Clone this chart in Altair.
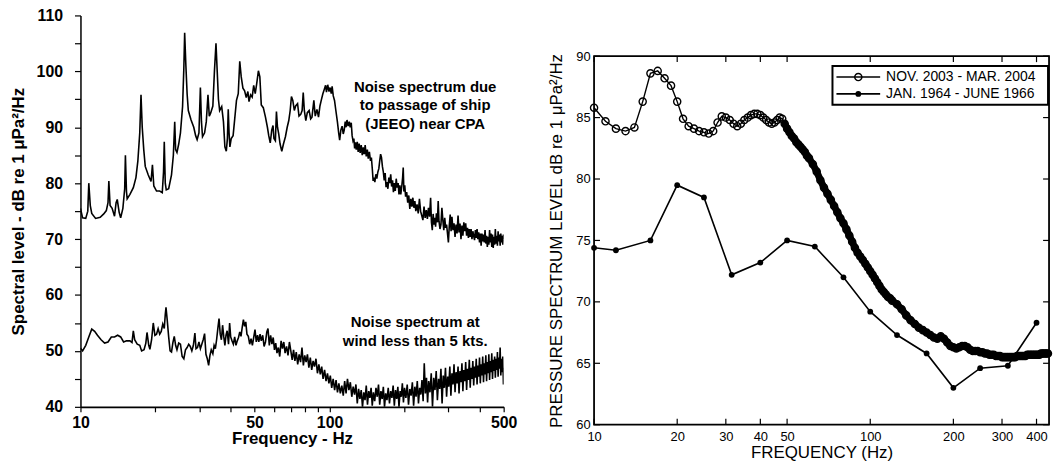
import altair as alt
import pandas as pd

FONT = "Liberation Sans"

# ---------------- Left panel data ----------------
ship_freq = [10.0, 10.2, 10.5, 10.7, 10.8, 10.95, 11.1, 11.5, 12.0, 12.4, 12.7, 12.9, 13.0, 13.15, 13.4, 13.7, 13.9, 14.05,
             14.3, 14.5, 14.8, 15.05, 15.15, 15.3, 15.4, 15.8, 16.3, 16.7, 17.0, 17.3, 17.5, 17.7, 17.95, 18.2, 18.7,
             19.2, 19.45, 19.7, 20.2, 20.8, 21.3, 21.55, 21.7, 21.9, 22.1, 22.6, 23.2, 23.6, 23.9, 24.1, 24.4, 24.8,
             25.2, 25.7, 26.0, 26.2, 26.5, 26.8, 27.1, 27.8, 28.5, 29.0, 29.4, 29.9, 30.3, 30.6, 30.9, 31.5, 32.0,
             32.5, 32.9, 33.3, 34.0, 34.5, 35.0, 35.4, 35.8, 36.2, 36.9, 37.5, 38.0, 38.5, 38.9, 39.2, 39.5, 39.8,
             40.3, 41.0, 41.6, 42.3, 43.0, 43.6, 44.2, 44.9, 45.6, 46.3, 47.0, 47.5, 48.2, 48.9, 49.6, 50.3, 51.0,
             51.8, 52.5, 53.2, 54.2, 55.3, 56.3, 57.0, 57.8, 58.6, 59.3, 59.8, 60.6, 61.2, 61.8, 62.5, 63.3, 64.3,
             65.3, 66.5, 67.6, 68.6, 69.5, 70.3, 71.2, 72.2, 73.1, 74.4, 75.4, 76.6, 77.6, 78.4, 79.2, 80.3, 81.4,
             82.8, 84.0, 85.0, 86.5, 87.6, 89.0, 90.3, 91.5, 92.6, 94.0, 95.3, 96.4, 97.2, 98.3, 99.5, 100.5, 101.6,
             102.4, 103.5, 104.7, 106.0, 107.5, 108.8, 109.8, 111.0, 112.3, 113.5, 114.5, 115.6, 116.5, 117.5, 118.7,
             120.0, 121.0, 122.2, 123.2, 124.2, 125.2, 126.1, 127.0, 128.0, 129.2, 130.3, 131.5, 132.7, 134.0, 135.3,
             136.5, 137.8, 139.0, 140.4, 141.8, 143.0, 144.5, 146.0, 147.2, 148.5, 149.6, 150.6, 152.0, 153.4, 154.8,
             156.3, 157.7, 159.0, 160.3, 161.6, 163.0, 164.4, 165.8, 167.2, 168.6, 170.0, 171.5, 173.0, 174.5, 176.0,
             177.5, 179.0, 180.5, 182.0, 183.6, 185.2, 186.8, 188.5, 190.0, 191.6, 193.2, 195.0, 196.5, 197.6, 198.8,
             200.4, 202.0, 204.0, 206.0, 208.0, 210.0, 212.0, 214.0, 216.0, 218.0, 220.0, 222.0, 224.5, 227.0, 229.5,
             232.0, 234.5, 237.0, 239.5, 242.0, 244.5, 247.0, 249.5, 252.0, 254.5, 256.5, 258.5, 260.5, 262.5, 264.5,
             266.5, 268.5, 271.0, 273.0, 275.0, 277.5, 280.0, 282.5, 285.0, 287.5, 290.0, 292.5, 295.0, 297.5, 300.0,
             302.5, 305.0, 307.5, 310.0, 313.0, 316.0, 319.0, 322.0, 325.0, 328.0, 331.0, 334.0, 337.0, 340.0, 343.0,
             346.0, 349.0, 352.0, 355.0, 358.0, 361.0, 364.0, 367.0, 370.0, 373.0, 376.0, 379.0, 382.0, 385.0, 388.0,
             391.0, 394.0, 397.0, 400.0, 403.0, 406.0, 409.0, 412.0, 415.0, 418.0, 421.0, 424.0, 427.0, 430.0, 433.0,
             436.0, 439.0, 442.0, 445.0, 448.0, 451.0, 454.0, 457.0, 460.0, 463.0, 466.0, 469.0, 472.0, 475.0, 478.0,
             481.0, 484.0, 487.0, 490.0, 493.0, 496.0, 499.0, 500.0]
ship_level = [75.5, 73.8, 73.7, 75.0, 80.0, 76.0, 74.6, 73.7, 73.9, 74.5, 75.1, 76.5, 80.4, 76.0, 75.5, 74.1, 76.5, 77.1,
              74.8, 73.8, 75.5, 79.0, 85.0, 78.5, 77.2, 78.0, 79.2, 81.0, 84.0, 89.0, 95.8, 90.0, 86.0, 83.0, 81.5,
              80.3, 83.3, 79.5, 78.6, 78.6, 78.3, 82.0, 87.4, 80.0, 78.8, 79.0, 81.5, 85.0, 91.0, 86.0, 85.5, 87.0,
              89.0, 93.7, 100.5, 106.9, 101.0, 96.0, 93.0, 91.3, 90.0, 88.5, 87.8, 89.0, 97.1, 91.0, 88.3, 89.0, 91.0,
              95.8, 92.0, 92.5, 93.8, 100.0, 105.0, 100.0, 95.0, 93.0, 93.7, 91.0, 86.5, 85.7, 88.0, 93.2, 89.0, 86.5,
              88.0, 88.5, 91.4, 94.8, 96.0, 101.8, 99.0, 97.0, 96.5, 95.3, 96.4, 94.6, 95.8, 95.4, 97.5, 96.0, 97.8,
              100.1, 99.0, 94.0, 93.5, 91.8, 90.0, 88.5, 87.2, 89.5, 90.3, 88.0, 87.6, 92.8, 90.0, 88.8, 87.0, 85.7,
              87.0, 88.3, 90.0, 91.2, 93.0, 95.5, 94.8, 93.0, 93.8, 94.2, 92.0, 92.3, 93.0, 96.2, 93.0, 91.2, 92.6,
              93.0, 91.5, 91.8, 94.8, 92.0, 93.2, 91.8, 93.8, 94.8, 96.0, 96.8, 97.5, 96.3, 97.6, 96.4, 97.1, 96.0,
              97.3, 95.6, 94.8, 93.0, 91.0, 89.0, 87.7, 89.5, 90.2, 88.8, 89.5, 91.0, 90.0, 91.3, 90.2,
              91.0, 90.0, 90.8, 88.5, 87.6, 88.0, 86.2, 87.3, 86.0, 87.4, 85.6, 87.1, 85.4, 86.8, 85.0,
              86.4, 85.2, 86.8, 84.8, 86.0, 84.4, 85.6, 84.0, 84.6, 82.5, 80.4, 81.0, 80.2, 81.6, 80.8,
              82.0, 82.6, 84.0, 85.2, 84.6, 83.0, 82.0, 80.5, 81.8, 79.3, 80.2, 79.0, 81.0, 80.0, 81.6,
              79.4, 80.5, 78.4, 80.0, 78.6, 80.8, 79.2, 80.0, 78.0, 79.6, 78.0, 79.5, 81.0, 82.8, 78.5,
              79.6, 77.6, 78.4, 76.5, 77.8, 75.4, 77.2, 75.8, 77.4, 75.6, 76.8, 75.0, 76.2, 74.6, 77.2,
              75.0, 74.2, 73.4, 75.8, 73.8, 75.2, 73.6, 75.6, 74.0, 77.4, 73.0, 71.6, 74.5, 72.6, 73.8,
              72.2, 74.6, 73.0, 76.8, 73.2, 71.8, 72.6, 75.6, 73.4, 71.6, 73.8, 72.0, 72.6, 71.0, 69.4,
              72.4, 74.4, 71.4, 74.0, 71.6, 72.8, 70.4, 72.6, 71.0, 74.2, 71.2, 72.8, 70.0, 72.4, 70.6,
              73.0, 71.4, 72.8, 70.6, 72.0, 70.2, 71.8, 70.4, 71.8, 70.0, 71.4, 70.6, 69.8, 71.6, 70.2,
              71.8, 70.0, 71.2, 69.4, 71.0, 68.8, 71.0, 69.6, 70.8, 69.4, 71.6, 69.2, 70.6, 68.6, 70.4,
              69.0, 71.6, 69.4, 71.0, 68.6, 70.8, 68.4, 70.4, 69.0, 71.8, 69.2, 70.6, 68.8, 71.4, 69.6,
              70.8, 68.8, 71.0, 69.4, 70.6, 69.0, 70.8, 70.0]

wind_freq = [10.0, 10.2, 10.5, 10.8, 11.1, 11.4, 11.7, 12.1, 12.5, 12.9, 13.3, 13.7, 14.1, 14.5, 14.9, 15.3, 15.8,
             16.1, 16.3, 16.5, 16.9, 17.3, 17.6, 18.0, 18.3, 18.5, 18.8, 19.0, 19.3, 19.6, 19.9, 20.2, 20.5, 20.8,
             21.1, 21.4, 21.7, 21.9, 22.05, 22.3, 22.6, 22.9, 23.2, 23.5, 23.8, 24.1, 24.4, 24.8, 25.2, 25.6, 26.0,
             26.4, 26.8, 27.2, 27.6, 28.0, 28.4, 28.8, 29.1, 29.5, 29.9, 30.3, 30.7, 31.1, 31.5, 31.9, 32.3, 32.7,
             33.1, 33.5, 34.0, 34.4, 34.8, 35.2, 35.6, 36.0, 36.4, 36.8, 37.2, 37.6, 38.0, 38.4, 38.8, 39.3, 39.7,
             40.1, 40.6, 41.1, 41.6, 42.1, 42.6, 43.1, 43.6, 44.1, 44.6, 45.1, 45.6, 46.1, 46.6, 47.2, 47.8, 48.4,
             49.0, 49.6, 50.2, 50.8, 51.4, 52.0, 52.6, 53.2, 53.9, 54.6, 55.3, 56.0, 56.6, 57.3, 58.0, 58.7, 59.4,
             60.1, 60.8, 61.5, 62.3, 63.1, 63.9, 64.7, 65.5, 66.3, 67.2, 68.1, 69.0, 69.9, 70.8, 71.7, 72.6, 73.5,
             74.5, 75.5, 76.5, 77.5, 78.5, 79.5, 80.5, 81.5, 82.6, 83.7, 84.8, 85.9, 87.0, 88.2, 89.4, 90.6, 91.8,
             93.0, 94.2, 95.5, 96.8, 98.1, 99.4, 100.7, 102.0, 103.4, 104.8, 106.2, 107.6, 109.0, 110.5, 112.0,
             113.5, 115.0, 116.5, 118.0, 119.6, 121.2, 122.8, 124.4, 126.0, 127.6, 129.2, 130.8, 132.4, 134.0,
             135.6, 137.2, 138.8, 140.4, 142.0, 143.6, 145.2, 146.8, 148.4, 150.0, 151.8, 153.6, 155.4, 157.2,
             159.0, 160.8, 162.6, 164.4, 166.2, 168.0, 170.0, 172.0, 174.0, 176.0, 178.0, 180.0, 182.0, 184.0,
             186.0, 188.0, 190.0, 192.0, 194.0, 196.0, 198.0, 200.0, 202.5, 205.0, 207.5, 210.0, 212.5, 215.0,
             217.5, 220.0, 222.5, 225.0, 227.5, 230.0, 232.5, 235.0, 237.5, 240.0, 242.5, 245.0, 247.5, 250.0,
             253.0, 256.0, 259.0, 262.0, 265.0, 268.0, 271.0, 274.0, 277.0, 280.0, 283.0, 286.0, 289.0, 292.0,
             295.0, 298.0, 301.0, 304.0, 307.0, 310.0, 313.0, 316.0, 319.0, 322.0, 325.0, 328.0, 331.0, 334.0,
             337.0, 340.0, 343.0, 346.0, 349.0, 352.0, 355.0, 358.0, 361.0, 364.0, 367.0, 370.0, 373.0, 376.0,
             379.0, 382.0, 385.0, 388.0, 391.0, 394.0, 397.0, 400.0, 403.0, 406.0, 409.0, 412.0, 415.0, 418.0,
             421.0, 424.0, 427.0, 430.0, 433.0, 436.0, 439.0, 442.0, 445.0, 448.0, 451.0, 454.0, 457.0, 460.0,
             463.0, 466.0, 469.0, 472.0, 475.0, 478.0, 481.0, 484.0, 487.0, 490.0, 493.0, 496.0, 499.0, 500.0]
wind_level = [50.5, 50.0, 51.0, 52.5, 53.9, 53.5, 52.8, 52.0, 51.4, 51.6, 52.5, 52.5, 52.8, 52.5, 51.6, 51.8, 51.8,
              51.5, 53.6, 52.0, 51.2, 51.0, 50.0, 50.2, 51.4, 53.3, 51.0, 50.3, 52.0, 55.0, 52.8, 53.0, 54.0, 53.0,
              53.5, 54.8, 54.0, 56.5, 57.8, 55.5, 52.5, 50.0, 49.8, 51.5, 52.6, 51.0, 50.2, 51.4, 51.2, 49.0, 48.6,
              50.2, 50.6, 51.2, 50.8, 50.0, 51.0, 53.2, 50.4, 50.6, 51.6, 50.4, 51.2, 52.0, 53.1, 49.4, 48.6, 47.4,
              49.2, 50.2, 49.5, 51.0, 50.4, 52.0, 54.0, 55.8, 53.0, 52.0, 54.6, 52.6, 51.0, 52.8, 53.6, 51.2, 55.0,
              52.5, 51.8, 51.2, 52.5, 51.0, 51.8, 52.4, 53.4, 52.6, 54.2, 55.6, 54.4, 55.2, 53.0, 52.6, 51.2, 52.2,
              51.0, 52.4, 53.8, 51.6, 52.8, 51.6, 53.0, 51.8, 52.8, 50.8, 51.6, 53.4, 54.0, 51.0, 52.8, 51.2, 52.4,
              50.2, 51.4, 49.6, 50.6, 49.0, 51.8, 50.4, 51.6, 49.6, 50.8, 49.2, 51.6, 50.0, 48.4, 50.2, 48.2, 49.8,
              47.6, 49.4, 48.0, 50.6, 47.4, 49.2, 48.0, 49.4, 47.0, 48.8, 46.6, 48.2, 47.2, 48.6, 46.0, 47.6, 45.8,
              47.2, 45.0, 46.6, 44.6, 46.0, 44.2, 45.6, 43.4, 45.0, 43.0, 44.8, 42.6, 44.2, 42.4, 43.8,
              42.0, 44.6, 42.4, 45.0, 43.0, 44.4, 41.8, 43.6, 42.2, 44.0, 40.6, 43.2, 41.4, 43.0,
              40.0, 42.6, 41.2, 43.8, 40.4, 42.8, 41.6, 43.4, 40.2, 42.6, 41.0, 43.4, 41.8, 44.0,
              40.4, 42.8, 41.4, 43.6, 40.0, 42.4, 41.2, 43.4, 40.6, 42.8, 41.6, 43.8, 40.2, 43.0,
              41.4, 43.6, 40.0, 42.8, 41.8, 44.2, 40.8, 43.4, 41.6, 44.0, 40.4, 43.2, 42.0, 44.4,
              40.2, 43.6, 41.8, 44.6, 40.6, 43.4, 42.2, 44.8, 41.0, 47.8, 42.4, 45.2, 40.8, 44.6,
              42.6, 46.0, 40.0, 45.2, 43.0, 46.4, 41.2, 45.0, 43.2, 46.8, 40.6, 45.6, 43.4, 47.0,
              41.8, 45.4, 43.6, 47.2, 42.0, 46.0, 44.0, 47.6, 42.6, 46.2, 44.2, 47.2, 42.4, 46.4,
              44.4, 47.8, 42.8, 46.6, 44.6, 48.0, 43.0, 46.8, 44.8, 48.4, 43.4, 47.0, 45.0, 48.2,
              43.8, 47.2, 45.2, 48.6, 44.0, 47.4, 45.4, 48.8, 44.2, 47.6, 45.6, 49.0, 44.4, 47.8,
              45.8, 49.2, 44.6, 48.0, 46.0, 49.4, 44.8, 48.2, 46.2, 49.6, 45.0, 48.4, 46.4, 49.0,
              45.2, 48.6, 46.6, 49.8, 45.4, 48.8, 46.8, 50.6, 45.6, 48.6, 46.2, 49.0, 44.0, 47.0]

left_xticks = [10, 20, 30, 40, 50, 60, 70, 80, 90, 100, 200, 300, 400, 500]
left_xlabels = [10, 50, 100, 500]
left_yticks = [40, 45, 50, 55, 60, 65, 70, 75, 80, 85, 90, 95, 100, 105, 110]

# ---------------- Right panel data ----------------
nov_freq = list(range(10, 61)) + list(range(62, 121, 2)) + list(range(125, 441, 5))
nov_level = [85.8, 84.7, 84.1, 83.9, 84.2, 86.3, 88.6, 88.8, 88.2, 87.6, 86.3, 84.9, 84.3, 84.1, 83.9, 83.8, 83.7,
             83.9, 84.6, 85.1, 85.0, 84.8, 84.5, 84.3, 84.5, 84.8, 85.0, 85.2, 85.3, 85.3, 85.2, 85.0, 84.8, 84.6,
             84.5, 84.6, 84.8, 85.0, 84.9, 84.5, 84.1, 83.8, 83.5, 83.3, 83.0, 82.8, 82.6, 82.4, 82.2, 81.9, 81.7,
             81.2, 80.6, 79.9, 79.3, 78.8, 78.3, 77.8, 77.3, 76.8, 76.4, 75.9, 75.4, 74.9, 74.4, 74.0, 73.7, 73.4,
             73.1, 72.8, 72.5, 72.2, 71.9, 71.6, 71.3, 71.0, 70.8, 70.6, 70.4, 70.3, 70.1,
             69.8, 69.4, 68.9, 68.5, 68.2, 67.9, 67.7, 67.5, 67.3, 67.1, 67.0, 67.2, 67.0, 66.7, 66.4, 66.3, 66.2,
             66.3, 66.4, 66.4, 66.3, 66.1, 66.0, 66.0, 66.0, 65.9, 65.9, 65.8, 65.8, 65.7, 65.7, 65.7, 65.6, 65.6,
             65.6, 65.5, 65.5, 65.5, 65.5, 65.5, 65.5, 65.5, 65.5, 65.6, 65.6, 65.6, 65.6, 65.6, 65.6, 65.7, 65.7,
             65.7, 65.7, 65.7, 65.7, 65.7, 65.7, 65.7, 65.8, 65.8, 65.8, 65.8, 65.8, 65.8]
jan_freq = [10, 12, 16, 20, 25, 31.5, 40, 50, 63, 80, 100, 125, 160, 200, 250, 315, 400]
jan_level = [74.4, 74.2, 75.0, 79.5, 78.5, 72.2, 73.2, 75.0, 74.5, 72.0, 69.2, 67.3, 65.8, 63.0, 64.6, 64.8, 68.3]

right_xticks = [10, 20, 30, 40, 50, 100, 200, 300, 400]
right_yticks = [60, 65, 70, 75, 80, 85, 90]
legend_labels = ["NOV. 2003 - MAR. 2004", "JAN. 1964 - JUNE 1966"]

ship_df = pd.DataFrame({"f": ship_freq, "v": ship_level})
wind_df = pd.DataFrame({"f": wind_freq, "v": wind_level})
nov_df = pd.DataFrame({"f": nov_freq, "v": nov_level})
jan_df = pd.DataFrame({"f": jan_freq, "v": jan_level})
one = alt.Data(values=[{}])

# ---------------- Left panel ----------------
LW, LH = 426, 394
lx = alt.X("f:Q", scale=alt.Scale(type="log", domain=[10, 500], nice=False),
           axis=alt.Axis(values=left_xticks, title="Frequency - Hz",
                         labelExpr="indexof(%s, datum.value) >= 0 ? '' + datum.value : ''" % left_xlabels,
                         labelOverlap=False, labelFlush=False, labelBound=False,
                         labelFont=FONT, labelFontWeight="bold", labelFontSize=16, labelColor="black",
                         labelPadding=3, tickSize=5, tickColor="black", tickWidth=1.2,
                         domainColor="black", domainWidth=1.8, grid=False,
                         titleFont=FONT, titleFontWeight="bold", titleFontSize=17, titleColor="black",
                         titlePadding=0))
ly = alt.Y("v:Q", scale=alt.Scale(domain=[40, 110], nice=False, zero=False),
           axis=alt.Axis(values=left_yticks, title="Spectral level - dB re 1 μPa²/Hz",
                         labelExpr="datum.value % 10 == 0 ? '' + datum.value : ''",
                         labelOverlap=False, labelFlush=False, labelBound=False,
                         labelFont=FONT, labelFontWeight="bold", labelFontSize=16, labelColor="black",
                         labelPadding=12, tickSize=6, tickColor="black", tickWidth=1.2,
                         domainColor="black", domainWidth=1.5, grid=False,
                         titleFont=FONT, titleFontWeight="bold", titleFontSize=17, titleColor="black",
                         titlePadding=9))

ship_line = alt.Chart(ship_df).mark_line(color="black", strokeWidth=1.6, clip=True).encode(x=lx, y=ly, order="f:Q")
wind_line = alt.Chart(wind_df).mark_line(color="black", strokeWidth=1.6, clip=True).encode(x=lx, y=ly, order="f:Q")
ann1 = alt.Chart(one).mark_text(
    text="Noise spectrum due\nto passage of ship\n(JEEO) near CPA", lineBreak="\n", lineHeight=18.5,
    align="center", baseline="alphabetic", font=FONT, fontWeight="bold", fontSize=15, color="black"
).encode(x=alt.value(347), y=alt.value(77))
ann2 = alt.Chart(one).mark_text(
    text="Noise spectrum at\nwind less than 5 kts.", lineBreak="\n", lineHeight=18.4,
    align="center", baseline="alphabetic", font=FONT, fontWeight="bold", fontSize=15, color="black"
).encode(x=alt.value(337), y=alt.value(314))

left = alt.layer(ship_line, wind_line, ann1, ann2).properties(width=LW, height=LH)

# ---------------- Right panel ----------------
RW, RTOTAL, RTOP = 458, 412, 41   # plot frame spans y = RTOP .. RTOTAL
rx = alt.X("f:Q", scale=alt.Scale(type="log", domain=[10, 444], nice=False),
           axis=alt.Axis(values=right_xticks, title="FREQUENCY (Hz)", labelExpr="'' + datum.value",
                         labelOverlap=False, labelFlush=False, labelBound=False,
                         labelFont=FONT, labelFontSize=13, labelColor="black", labelPadding=6,
                         ticks=False, tickSize=0, domain=False, grid=False,
                         titleFont=FONT, titleFontWeight="normal", titleFontSize=17, titleColor="black",
                         titlePadding=1))
ry = alt.Y("v:Q", scale=alt.Scale(domain=[60, 90], nice=False, zero=False, range=[RTOTAL, RTOP]),
           axis=alt.Axis(values=right_yticks, title="PRESSURE SPECTRUM LEVEL dB re 1 μPa²/Hz",
                         labelExpr="'' + datum.value",
                         labelOverlap=False, labelFlush=False, labelBound=False,
                         labelFont=FONT, labelFontSize=13, labelColor="black", labelPadding=4,
                         ticks=False, tickSize=0, domain=False, grid=False,
                         titleFont=FONT, titleFontWeight="normal", titleFontSize=17, titleColor="black",
                         titlePadding=10))

xt_df = pd.DataFrame({"f": right_xticks})
yt_df = pd.DataFrame({"v": right_yticks})

frame = alt.Chart(one).mark_rect(fill="white", fillOpacity=0, stroke="black", strokeWidth=1.8).encode(
    x=alt.value(0), x2=alt.value(RW), y=alt.value(RTOP), y2=alt.value(RTOTAL))
tick_b = alt.Chart(xt_df).mark_rule(color="black", strokeWidth=1.2).encode(
    x=rx, y=alt.value(RTOTAL), y2=alt.value(RTOTAL - 6))
tick_t = alt.Chart(xt_df).mark_rule(color="black", strokeWidth=1.2).encode(
    x=rx, y=alt.value(RTOP), y2=alt.value(RTOP + 6))
tick_l = alt.Chart(yt_df).mark_rule(color="black", strokeWidth=1.2).encode(y=ry, x=alt.value(0), x2=alt.value(6))
tick_r = alt.Chart(yt_df).mark_rule(color="black", strokeWidth=1.2).encode(y=ry, x=alt.value(RW - 6), x2=alt.value(RW))

nov_line = alt.Chart(nov_df).mark_line(color="black", strokeWidth=1.4).encode(x=rx, y=ry, order="f:Q")
# dense overlapping markers beyond ~50 Hz merge into a thick band
nov_band = alt.Chart(nov_df).transform_filter("datum.f >= 49").mark_line(
    color="black", strokeWidth=7, strokeCap="round", strokeJoin="round").encode(x=rx, y=ry, order="f:Q")
nov_pts = alt.Chart(nov_df).mark_point(shape="circle", filled=False, color="black", size=52,
                                        strokeWidth=1.4, opacity=1).encode(x=rx, y=ry)
jan_line = alt.Chart(jan_df).mark_line(color="black", strokeWidth=1.6).encode(x=rx, y=ry, order="f:Q")
jan_pts = alt.Chart(jan_df).mark_point(shape="circle", filled=True, color="black", size=34,
                                        opacity=1).encode(x=rx, y=ry)

# legend box (drawn)
LX0, LX1, LY0, LY1 = 240, 457, RTOP + 10, RTOP + 49
leg_box = alt.Chart(one).mark_rect(fill="white", stroke="black", strokeWidth=2).encode(
    x=alt.value(LX0), x2=alt.value(LX1), y=alt.value(LY0), y2=alt.value(LY1))
leg_rule1 = alt.Chart(one).mark_rule(color="black", strokeWidth=1.4).encode(
    x=alt.value(244), x2=alt.value(288), y=alt.value(RTOP + 21))
leg_rule2 = alt.Chart(one).mark_rule(color="black", strokeWidth=1.6).encode(
    x=alt.value(244), x2=alt.value(288), y=alt.value(RTOP + 38))
leg_pt1 = alt.Chart(one).mark_point(shape="circle", filled=False, color="black", size=52, strokeWidth=1.4,
                                    opacity=1).encode(x=alt.value(266), y=alt.value(RTOP + 21))
leg_pt2 = alt.Chart(one).mark_point(shape="circle", filled=True, color="black", size=34, opacity=1).encode(
    x=alt.value(266), y=alt.value(RTOP + 38))
leg_t1 = alt.Chart(one).mark_text(text=legend_labels[0], align="left", baseline="middle", font=FONT,
                                  fontSize=14, color="black").encode(x=alt.value(294), y=alt.value(RTOP + 21))
leg_t2 = alt.Chart(one).mark_text(text=legend_labels[1], align="left", baseline="middle", font=FONT,
                                  fontSize=14, color="black").encode(x=alt.value(294), y=alt.value(RTOP + 38))

right = alt.layer(
    nov_band, nov_line, nov_pts, jan_line, jan_pts, frame, tick_b, tick_t, tick_l, tick_r,
    leg_box, leg_rule1, leg_rule2, leg_pt1, leg_pt2, leg_t1, leg_t2
).properties(width=RW, height=RTOTAL)

chart = alt.hconcat(left, right, spacing=30).properties(
    padding={"left": 9, "top": 6, "right": 0, "bottom": 0},
    background="white"
).configure_view(stroke=None)

chart.save("out.html", embed_options={"renderer": "svg", "actions": False})
